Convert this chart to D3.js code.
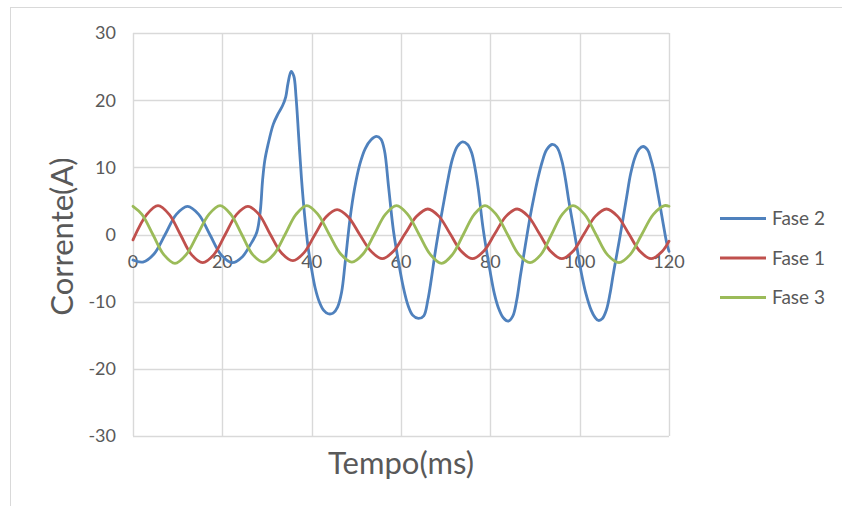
<!DOCTYPE html>
<html>
<head>
<meta charset="utf-8">
<script src="https://cdn.jsdelivr.net/npm/d3@7"></script>
<style>
  html, body { margin: 0; padding: 0; background: #ffffff; }
  svg { display: block; }
  text { font-family: Lato, "Open Sans", sans-serif; fill: #595959; }
</style>
</head>
<body>
<svg id="chart" width="842" height="506"></svg>
<script>
// ---------- data ----------
const seriesNames = ["Fase 2", "Fase 1", "Fase 3"];
const seriesColors = ["#4f81bd", "#c0504d", "#9bbb59"];
const xTicks = [0, 20, 40, 60, 80, 100, 120];
const yTicks = [-30, -20, -10, 0, 10, 20, 30];

// [time ms, current A]
const fase2 = [
  [0,-3.8],[2.2,-4.1],[4.7,-2.9],[7.2,0],[9.7,3.0],[12.2,4.2],[14.7,3.0],[17.2,0],[19.7,-3.0],
  [22.2,-4.2],[24.5,-3.3],[26.2,-1.6],[27.7,0.3],[28.5,3.5],[29.0,8.0],[29.5,11.0],[30.2,13.3],
  [31.4,16.4],[32.5,18.0],[33.5,19.2],[34.2,20.5],[34.7,22.5],[35.4,24.3],[36.0,23.6],[36.5,20.5],
  [37.1,14.5],[37.7,8.5],[38.4,3.0],[39.2,-1.9],[40.0,-5.2],[40.8,-8.0],[41.7,-10.0],[42.7,-11.3],
  [43.7,-11.8],[44.8,-11.7],[45.8,-10.8],[46.7,-8.6],[47.5,-4.2],[48.6,2.4],[49.6,6.8],[50.8,10.5],
  [52.0,12.8],[53.3,14.1],[54.5,14.6],[55.5,14.2],[56.3,12.5],[57.2,7.2],[58.3,0.6],[59.4,-3.9],
  [60.5,-7.8],[61.6,-10.6],[62.6,-12.0],[63.9,-12.5],[65.1,-12.1],[66.0,-9.8],[66.8,-6.6],[67.6,-2.9],
  [68.5,0.8],[69.3,3.8],[70.6,8.5],[71.5,11.2],[72.6,13.1],[73.8,13.8],[74.9,13.4],[75.8,12.2],
  [76.6,9.8],[77.3,6.8],[78.4,0.8],[79.9,-5.3],[80.9,-8.8],[81.8,-10.9],[82.9,-12.4],[84.0,-12.9],
  [85.0,-12.2],[85.9,-9.8],[86.7,-6.3],[87.4,-3.4],[88.9,2.6],[89.8,5.7],[90.7,8.5],[91.6,10.8],
  [92.6,12.6],[93.8,13.4],[94.9,13.0],[96.0,11.0],[96.8,8.3],[97.5,5.3],[98.2,2.6],[99.0,-0.4],
  [100.4,-5.8],[101.4,-8.8],[102.6,-11.3],[103.4,-12.3],[104.2,-12.8],[105.1,-12.5],[106.0,-11.2],
  [106.8,-8.8],[107.5,-6.0],[108.3,-3.0],[109.0,-0.4],[110.5,5.5],[111.4,9.0],[112.4,11.5],
  [113.3,12.7],[114.2,13.1],[115.2,12.6],[115.9,11.3],[116.6,9.5],[117.2,7.3],[118.0,4.3],
  [118.7,1.6],[119.5,-1.3],[120.0,-2.5]
];

const fase1 = [
  [0,-0.8],[3.1,3.0],[5.6,4.3],[8.1,3.0],[10.6,0],[13.1,-3.0],[15.6,-4.2],[18.1,-3.0],[20.65,0],
  [23.2,3.0],[25.7,4.2],[28.2,3.0],[30.75,0],[33.3,-2.8],[35.8,-3.9],[38.3,-2.7],[40.75,0],
  [43.2,2.6],[45.7,3.7],[48.2,2.6],[50.75,0],[53.3,-2.5],[55.8,-3.6],[58.3,-2.5],[60.9,0.1],
  [63.5,2.7],[66,3.8],[68.5,2.7],[71,0.1],[73.5,-2.5],[76,-3.6],[78.5,-2.5],[81,0.1],[83.5,2.7],
  [86,3.8],[88.5,2.7],[91,0.1],[93.5,-2.5],[96,-3.6],[98.5,-2.5],[101,0.1],[103.5,2.7],[106,3.8],
  [108.5,2.7],[111,0.1],[113.5,-2.5],[116,-3.6],[118.5,-2.5],[120,-1.0]
];

const fase3 = [
  [0,4.2],[2.0,3.0],[4.45,0],[6.9,-3.0],[9.4,-4.3],[11.9,-3.0],[14.45,0],[17.0,3.0],[19.5,4.3],
  [21.9,3.0],[24.35,0],[26.8,-3.0],[29.2,-4.1],[31.6,-2.9],[34.05,0],[36.5,3.0],[38.9,4.3],
  [41.4,3.0],[43.95,0],[46.5,-2.9],[49.0,-4.1],[51.5,-2.9],[54,0],[56.5,3.0],[59,4.3],
  [61.5,3.0],[64.05,0],[66.6,-3.0],[69.1,-4.3],[71.5,-3.0],[73.95,0],[76.4,3.0],[78.8,4.3],
  [81.3,3.0],[83.85,0],[86.4,-3.0],[88.9,-4.2],[91.3,-3.0],[93.7,0],[96.1,3.0],[98.5,4.3],
  [101.1,3.0],[103.65,0],[106.2,-3.0],[108.8,-4.2],[111.3,-3.0],[113.9,0],[116.5,3.0],[119.0,4.3],
  [120,4.2]
];

const seriesData = [fase2, fase1, fase3];

// ---------- layout ----------
const svg = d3.select("#chart");
const plot = { left: 133, right: 669, top: 33, bottom: 436 };

const x = d3.scaleLinear().domain([0, 120]).range([plot.left, plot.right]);
const y = d3.scaleLinear().domain([-30, 30]).range([plot.bottom, plot.top]);

// chart border
svg.append("rect")
  .attr("x", 10.5).attr("y", 7.5).attr("width", 1000).attr("height", 1000)
  .attr("fill", "none").attr("stroke", "#d9d9d9").attr("stroke-width", 1);

// gridlines
const grid = svg.append("g");
grid.selectAll("line.h").data(yTicks).enter().append("line")
  .attr("x1", plot.left).attr("x2", plot.right)
  .attr("y1", d => Math.round(y(d)) + 0.5).attr("y2", d => Math.round(y(d)) + 0.5)
  .attr("stroke", "#d9d9d9").attr("stroke-width", 1.4);
grid.selectAll("line.v").data(xTicks).enter().append("line")
  .attr("y1", plot.top).attr("y2", plot.bottom)
  .attr("x1", d => Math.round(x(d)) + 0.5).attr("x2", d => Math.round(x(d)) + 0.5)
  .attr("stroke", "#d9d9d9").attr("stroke-width", 1.4);

// y tick labels
svg.append("g").selectAll("text").data(yTicks).enter().append("text")
  .attr("x", 116).attr("y", d => y(d))
  .attr("dy", "0.36em")
  .attr("text-anchor", "end")
  .style("font-size", "18px")
  .text(d => d);

// x tick labels (at y = 0)
svg.append("g").selectAll("text").data(xTicks).enter().append("text")
  .attr("x", d => x(d)).attr("y", y(0) + 27)
  .attr("dy", "0.36em")
  .attr("text-anchor", "middle")
  .style("font-size", "18px")
  .text(d => d);

// axis titles
svg.append("text")
  .attr("transform", `translate(62, ${(plot.top + plot.bottom) / 2 + 2}) rotate(-90)`)
  .attr("text-anchor", "middle")
  .attr("dy", "0.36em")
  .style("font-size", "31px")
  .text("Corrente(A)");

svg.append("text")
  .attr("x", (plot.left + plot.right) / 2).attr("y", 463)
  .attr("dy", "0.36em")
  .attr("text-anchor", "middle")
  .style("font-size", "31px")
  .text("Tempo(ms)");

// lines
const line = d3.line()
  .x(d => x(d[0]))
  .y(d => y(d[1]))
  .curve(d3.curveCatmullRom.alpha(0.5));

svg.append("g").selectAll("path").data(seriesData).enter().append("path")
  .attr("d", d => line(d))
  .attr("fill", "none")
  .attr("stroke", (d, i) => seriesColors[i])
  .attr("stroke-width", 2.8)
  .attr("stroke-linejoin", "round")
  .attr("stroke-linecap", "round");

// legend
const legend = svg.append("g");
const legendY = [218.5, 258, 297.5];
seriesNames.forEach((name, i) => {
  legend.append("line")
    .attr("x1", 720).attr("x2", 766)
    .attr("y1", legendY[i]).attr("y2", legendY[i])
    .attr("stroke", seriesColors[i]).attr("stroke-width", 2.8);
  legend.append("text")
    .attr("x", 772).attr("y", legendY[i])
    .attr("dy", "0.36em")
    .style("font-size", "19px")
    .text(name);
});
</script>
</body>
</html>
